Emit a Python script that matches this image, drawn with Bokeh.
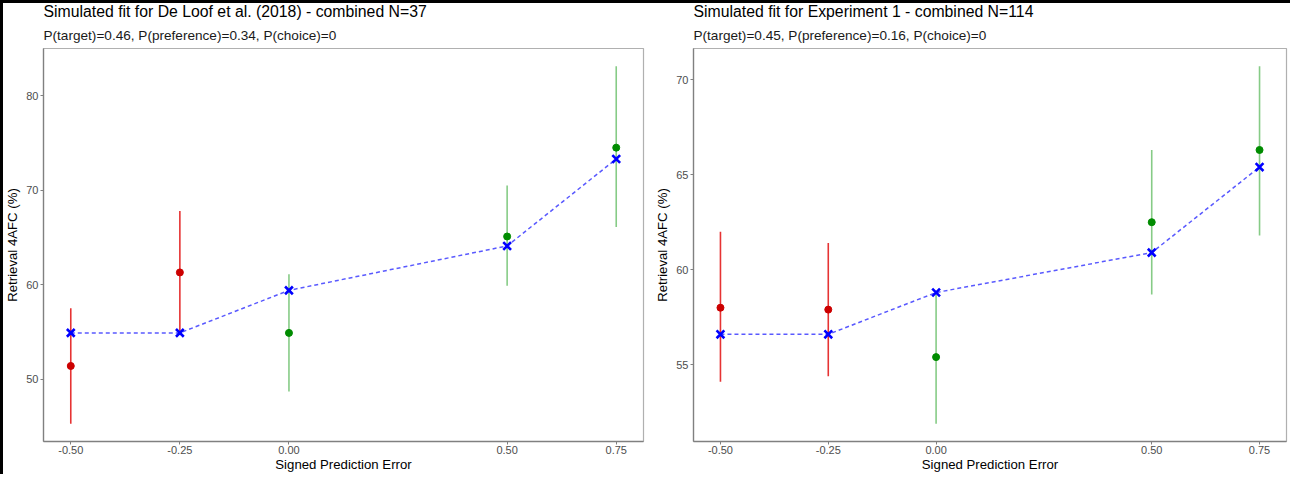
from bokeh.plotting import figure
from bokeh.models import Range1d, FixedTicker, Title
from bokeh.layouts import row
from bokeh.embed import file_html
from bokeh.resources import INLINE

# ---------------- data ----------------
x_vals = [-0.50, -0.25, 0.00, 0.50, 0.75]
x_tick_labels = ["-0.50", "-0.25", "0.00", "0.50", "0.75"]
x_label = "Signed Prediction Error"
y_label = "Retrieval 4AFC (%)"

left_title = "Simulated fit for De Loof et al. (2018) - combined N=37"
left_subtitle = "P(target)=0.46, P(preference)=0.34, P(choice)=0"
left_obs = [51.4, 61.3, 54.9, 65.1, 74.5]
left_lo = [45.3, 54.9, 48.7, 59.9, 66.1]
left_hi = [57.5, 67.8, 61.1, 70.5, 83.1]
left_model = [54.9, 54.9, 59.4, 64.1, 73.3]
left_yticks = [50, 60, 70, 80]

right_title = "Simulated fit for Experiment 1 - combined N=114"
right_subtitle = "P(target)=0.45, P(preference)=0.16, P(choice)=0"
right_obs = [58.0, 57.9, 55.4, 62.5, 66.3]
right_lo = [54.1, 54.4, 51.9, 58.7, 61.8]
right_hi = [62.0, 61.4, 58.7, 66.3, 70.7]
right_model = [56.6, 56.6, 58.8, 60.9, 65.4]
right_yticks = [55, 60, 65, 70]

FONT = "Liberation Sans"
RED_PT, RED_BAR = "#CC0000", "#E00000"
GREEN_PT, GREEN_BAR = "#008C00", "#22A022"


def make_panel(title, subtitle, obs, lo, hi, model, yticks, width, mb_left, mb_right):
    xspan = max(x_vals) - min(x_vals)
    ymin = min(lo + model + obs)
    ymax = max(hi + model + obs)
    yspan = ymax - ymin
    p = figure(
        width=width, height=474,
        x_range=Range1d(min(x_vals) - 0.05 * xspan, max(x_vals) + 0.05 * xspan),
        y_range=Range1d(ymin - 0.05 * yspan, ymax + 0.05 * yspan),
        output_backend="svg", toolbar_location=None, title=None,
        min_border_left=mb_left, min_border_right=mb_right,
        min_border_top=0, min_border_bottom=0,
    )
    p.add_layout(Title(text=subtitle, text_font=FONT, text_font_size="13.6px",
                       text_font_style="normal", text_color="#1a1a1a",
                       standoff=11), "above")
    p.add_layout(Title(text=title, text_font=FONT, text_font_size="15.8px",
                       text_font_style="normal", text_color="#000000",
                       standoff=1), "above")

    p.xgrid.visible = False
    p.ygrid.visible = False
    p.outline_line_color = "#B0B0B0"
    p.outline_line_width = 1.2
    p.background_fill_color = "white"
    p.border_fill_color = None

    for ax in (p.xaxis[0], p.yaxis[0]):
        ax.axis_line_color = "#808080"
        ax.axis_line_width = 1.3
        ax.major_tick_line_color = "#808080"
        ax.major_tick_in = 0
        ax.major_tick_out = 3
        ax.minor_tick_line_color = None
        ax.major_label_text_font = FONT
        ax.major_label_text_font_size = "11px"
        ax.major_label_text_color = "#4D4D4D"
        ax.major_label_standoff = 1
        ax.axis_label_text_font = FONT
        ax.axis_label_text_font_size = "13.2px"
        ax.axis_label_text_font_style = "normal"
        ax.axis_label_text_color = "#000000"
        ax.axis_label_standoff = 0

    p.yaxis.major_label_standoff = 2
    p.yaxis.axis_label_standoff = 3

    p.xaxis.ticker = FixedTicker(ticks=x_vals)
    p.xaxis.major_label_overrides = {v: s for v, s in zip(x_vals, x_tick_labels)}
    p.xaxis.axis_label = x_label
    p.yaxis.ticker = FixedTicker(ticks=yticks)
    p.yaxis.axis_label = y_label

    bar_cols = [RED_BAR if v < 0 else GREEN_BAR for v in x_vals]
    bar_alpha = [0.8 if v < 0 else 0.55 for v in x_vals]
    pt_cols = [RED_PT if v < 0 else GREEN_PT for v in x_vals]

    p.segment(x0=x_vals, y0=lo, x1=x_vals, y1=hi, line_color=bar_cols,
              line_alpha=bar_alpha, line_width=1.6)
    p.scatter(x=x_vals, y=obs, marker="circle", size=7, fill_color=pt_cols,
              line_color=pt_cols)
    p.line(x=x_vals, y=model, line_color="#0000FF", line_alpha=0.65,
           line_width=1.5, line_dash="4 3")
    p.scatter(x=x_vals, y=model, marker="x", size=11, line_color="#0000FF",
              line_width=2.6)
    return p


p1 = make_panel(left_title, left_subtitle, left_obs, left_lo, left_hi, left_model,
                left_yticks, 652, 43, 9)
p2 = make_panel(right_title, right_subtitle, right_obs, right_lo, right_hi, right_model,
                right_yticks, 638, 38, 4)

layout = row(p1, p2, styles={"box-shadow": "inset 3px 3px 0 0 #000000",
                             "background-color": "white"})

open("out.html", "w").write(file_html(layout, INLINE))
